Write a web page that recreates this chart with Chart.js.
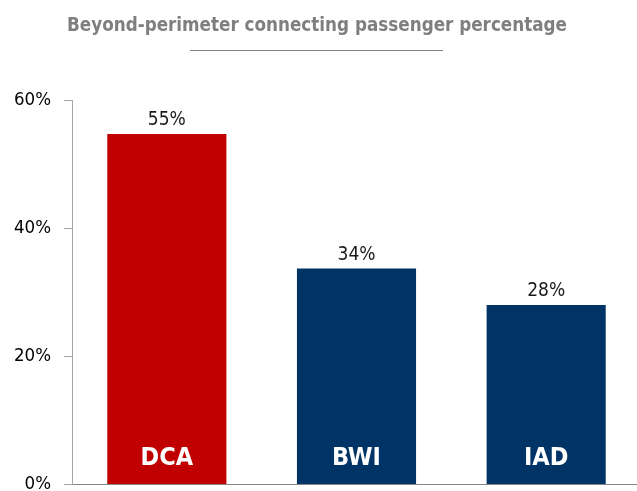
<!DOCTYPE html>
<html>
<head>
<meta charset="utf-8">
<script src="https://cdn.jsdelivr.net/npm/chart.js@4"></script>
<style>
    html, body { margin: 0; padding: 0; background: #fff; overflow: hidden; }
    #wrap { width: 637px; height: 491px; overflow: hidden; position: relative; }
    #chart { display: block; }
</style>
</head>
<body>
<div id="wrap"><canvas id="chart" width="641" height="491"></canvas></div>
<script>
const chartTitle = 'Beyond-perimeter connecting passenger percentage';
const airports = ['DCA', 'BWI', 'IAD'];
const connectingShare = [54.7, 33.7, 28.0];
const shareLabels = ['55%', '34%', '28%'];
const barColors = ['#c00000', '#003366', '#003366'];
const yMin = 0;
const yMax = 60;
const yStep = 20;

const FONT = "'DejaVu Sans Condensed', 'DejaVu Sans', sans-serif";

// title + short rule under it
const titlePlugin = {
    id: 'titleRule',
    afterDraw: function (chart) {
        const ctx = chart.ctx;
        ctx.save();
        ctx.font = 'bold 20px ' + FONT;
        ctx.fillStyle = '#7f7f7f';
        ctx.textAlign = 'center';
        ctx.textBaseline = 'alphabetic';
        ctx.fillText(chartTitle, 317, 31, 500);
        ctx.strokeStyle = '#808080';
        ctx.lineWidth = 1;
        ctx.beginPath();
        ctx.moveTo(190, 50.5);
        ctx.lineTo(443, 50.5);
        ctx.stroke();
        ctx.restore();
    }
};

// value above each bar, airport code inside at the bottom
const barLabelPlugin = {
    id: 'barLabels',
    afterDatasetsDraw: function (chart) {
        const ctx = chart.ctx;
        const bars = chart.getDatasetMeta(0).data;
        ctx.save();
        ctx.textAlign = 'center';
        ctx.textBaseline = 'alphabetic';
        bars.forEach(function (bar, i) {
            ctx.font = '19px ' + FONT;
            ctx.fillStyle = '#1a1a1a';
            ctx.fillText(shareLabels[i], bar.x, bar.y - 9);
            ctx.font = 'bold 25px ' + FONT;
            ctx.fillStyle = '#ffffff';
            ctx.fillText(airports[i], bar.x, bar.base - 19.5);
        });
        ctx.restore();
    }
};

new Chart(document.getElementById('chart'), {
    type: 'bar',
    data: {
        labels: airports,
        datasets: [{
            data: connectingShare,
            backgroundColor: barColors,
            borderWidth: 0,
            barPercentage: 0.628,
            categoryPercentage: 1
        }]
    },
    options: {
        responsive: false,
        animation: false,
        layout: { padding: { top: 100, bottom: 6.5, left: 0, right: 0 } },
        plugins: {
            legend: { display: false },
            tooltip: { enabled: false },
            title: { display: false }
        },
        scales: {
            x: {
                ticks: { display: false },
                grid: { display: false, drawTicks: false },
                border: { color: '#868686', width: 1 }
            },
            y: {
                min: yMin,
                max: yMax,
                afterFit: function (scale) {
                    scale.width = 72;
                    // the bottom label is allowed to run off the page
                    scale.paddingTop = 0;
                    scale.paddingBottom = 0;
                },
                ticks: {
                    stepSize: yStep,
                    color: '#000000',
                    padding: 13,
                    font: { family: FONT, size: 18.5 },
                    callback: function (v) { return v + '%'; }
                },
                grid: { drawOnChartArea: false, tickLength: 8, color: '#a6a6a6' },
                border: { color: '#a6a6a6', width: 1 }
            }
        }
    },
    plugins: [titlePlugin, barLabelPlugin]
});
</script>
</body>
</html>
